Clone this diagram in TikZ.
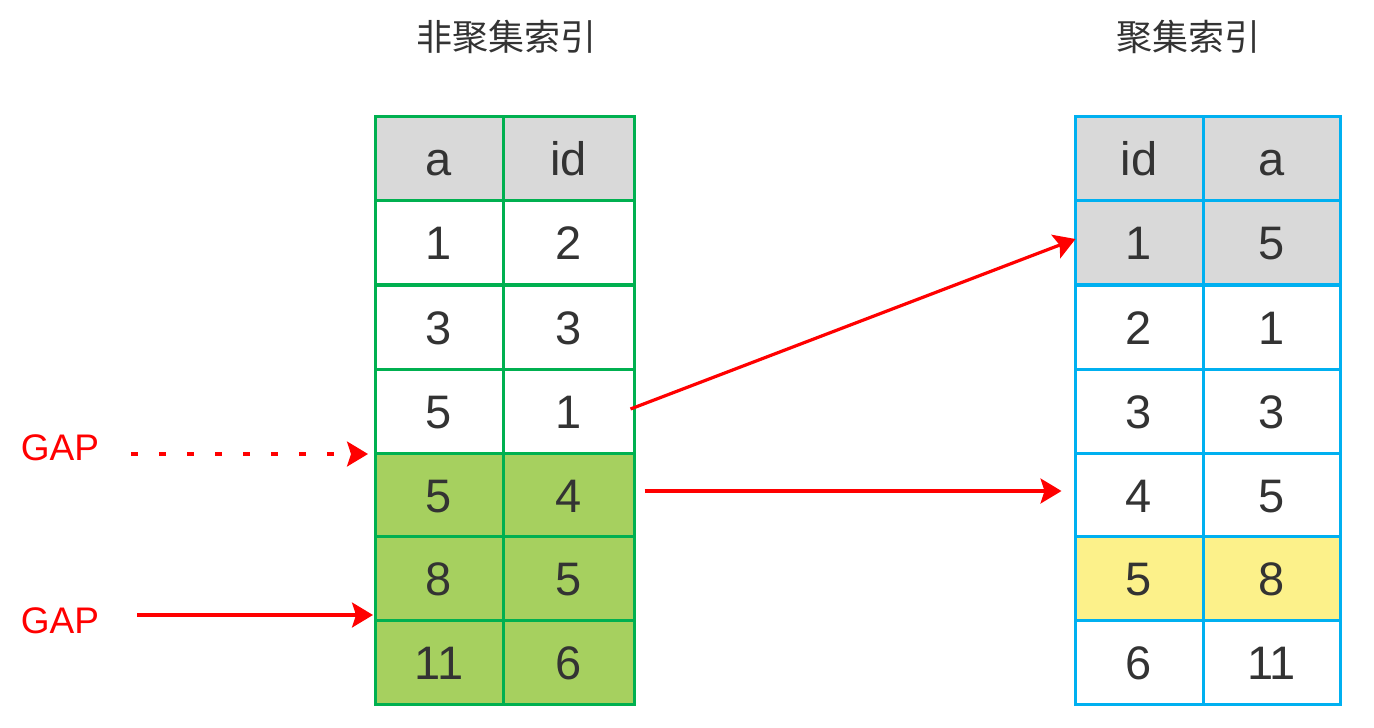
\documentclass[tikz,border=0pt]{standalone}
\usepackage{fontspec}
\setmainfont{Liberation Sans}
\newfontfamily\cjk{Noto Sans CJK SC}
\usetikzlibrary{arrows.meta}
\definecolor{txt}{HTML}{333333}
\definecolor{gborder}{HTML}{00B050}
\definecolor{bborder}{HTML}{00B0F0}
\definecolor{hdr}{HTML}{D9D9D9}
\definecolor{lgreen}{HTML}{A6D05F}
\definecolor{lyellow}{HTML}{FCF18A}
\definecolor{ared}{HTML}{FF0000}
\tikzset{
  cell/.style={rectangle, draw, line width=3pt, inner sep=0pt,
    minimum height=84pt, text height=34pt, text depth=0pt,
    font=\fontsize{47}{47}\selectfont, text=txt},
  lc1/.style={cell, draw=gborder, minimum width=128pt},
  lc2/.style={cell, draw=gborder, minimum width=131pt},
  rc1/.style={cell, draw=bborder, minimum width=128pt},
  rc2/.style={cell, draw=bborder, minimum width=137pt},
  title/.style={font=\cjk\fontsize{36}{36}\selectfont, text=txt, inner sep=0pt},
  gaplabel/.style={font=\fontsize{37}{37}\selectfont, text=ared, inner sep=0pt},
  redarrow/.style={draw=ared, line width=3.2pt, -{Stealth[length=21pt,width=25pt,inset=4pt]}},
}
\begin{document}
\begin{tikzpicture}[x=1pt,y=-1pt]
\useasboundingbox (0,0) rectangle (1374,728);
% titles
\node[title] (t1) at (506,37) {非聚集索引};
\node[title] (t2) at (1188,37) {聚集索引};
% left table
\node[lc1, fill=hdr] (l01) at (439,158) {a};
\node[lc2, fill=hdr] (l02) at (568.5,158) {id};
\node[lc1, fill=white] (l11) at (439,242.5) {1};
\node[lc2, fill=white] (l12) at (568.5,242.5) {2};
\node[lc1, fill=white] (l21) at (439,327) {3};
\node[lc2, fill=white] (l22) at (568.5,327) {3};
\node[lc1, fill=white] (l31) at (439,411) {5};
\node[lc2, fill=white] (l32) at (568.5,411) {1};
\node[lc1, fill=lgreen] (l41) at (439,495) {5};
\node[lc2, fill=lgreen] (l42) at (568.5,495) {4};
\node[lc1, fill=lgreen] (l51) at (439,578.5) {8};
\node[lc2, fill=lgreen] (l52) at (568.5,578.5) {5};
\node[lc1, fill=lgreen] (l61) at (439,662) {11};
\node[lc2, fill=lgreen] (l62) at (568.5,662) {6};
% right table
\node[rc1, fill=hdr] (r01) at (1139,158) {id};
\node[rc2, fill=hdr] (r02) at (1271.5,158) {a};
\node[rc1, fill=hdr] (r11) at (1139,242.5) {1};
\node[rc2, fill=hdr] (r12) at (1271.5,242.5) {5};
\node[rc1, fill=white] (r21) at (1139,327) {2};
\node[rc2, fill=white] (r22) at (1271.5,327) {1};
\node[rc1, fill=white] (r31) at (1139,411) {3};
\node[rc2, fill=white] (r32) at (1271.5,411) {3};
\node[rc1, fill=white] (r41) at (1139,495) {4};
\node[rc2, fill=white] (r42) at (1271.5,495) {5};
\node[rc1, fill=lyellow] (r51) at (1139,578.5) {5};
\node[rc2, fill=lyellow] (r52) at (1271.5,578.5) {8};
\node[rc1, fill=white] (r61) at (1139,662) {6};
\node[rc2, fill=white] (r62) at (1271.5,662) {11};
% GAP labels
\node[gaplabel] (g1) at (60,448) {GAP};
\node[gaplabel] (g2) at (60,621) {GAP};
\coordinate (g1s) at (131,454);
\coordinate (g1e) at (368,454);
\coordinate (g2s) at (137,615);
\coordinate (g2e) at (373,615);
\draw[redarrow, dash pattern=on 7pt off 21pt] (g1s) -- (g1e);
\draw[redarrow] (g2s) -- (g2e);
% mapping arrows
\draw[redarrow] ([xshift=-5pt,yshift=2pt]l32.east) -- ([xshift=2pt,yshift=3.5pt]r11.west);
\draw[redarrow, shorten <=9pt, shorten >=12pt] ([yshift=4pt]l42.east) -- ([yshift=4pt]r41.west);
\end{tikzpicture}
\end{document}
